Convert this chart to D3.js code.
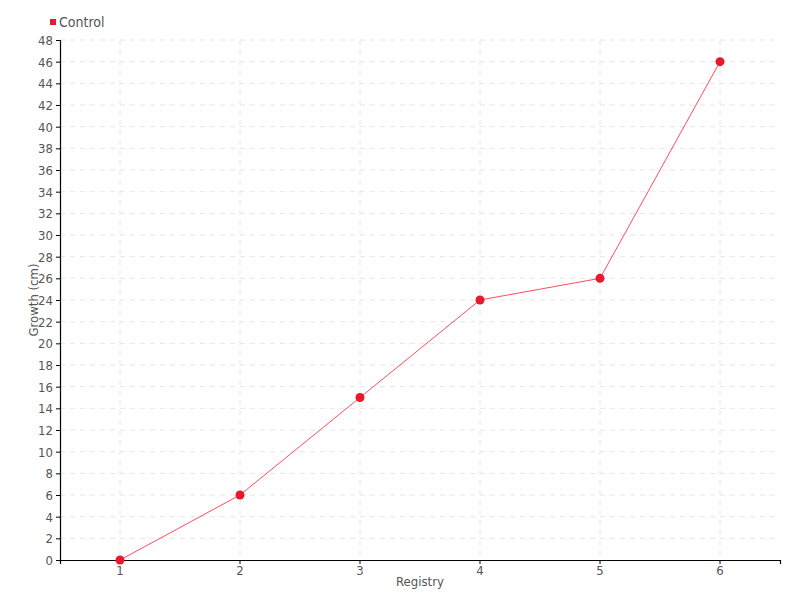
<!DOCTYPE html>
<html>
<body>
    <style>
        body, html { margin: 0; padding: 0; background: #fff; }
        svg text { font-family: "DejaVu Sans Condensed", sans-serif; fill: #555; }
    </style>

    <svg width="800" height="600"></svg>

    <script src="https://d3js.org/d3.v7.min.js"></script>
    <script>
        var categories = ["1", "2", "3", "4", "5", "6"];
        var growth = [0, 6, 15, 24, 26, 46];
        var yTicks = d3.range(0, 49, 2);
        var seriesName = "Control";

        var width = 800, height = 600;
        var margin = {top: 40, right: 20, bottom: 40, left: 60};
        var lineColor = "#ff4d5e";
        var dotColor = "#e8192c";
        var font = '"DejaVu Sans Condensed", sans-serif';

        var svg = d3.select("svg");

        var x = d3.scaleBand()
            .domain(categories)
            .range([margin.left, width - margin.right]);
        var y = d3.scaleLinear()
            .domain([0, 48])
            .range([height - margin.bottom, margin.top]);

        // grid
        svg.append("g").selectAll("line").data(yTicks.slice(1)).join("line")
            .attr("x1", margin.left).attr("x2", width - margin.right)
            .attr("y1", d => y(d)).attr("y2", d => y(d))
            .attr("stroke", "#e6e6e6").attr("stroke-dasharray", "5,5");
        svg.append("g").selectAll("line").data(categories).join("line")
            .attr("x1", d => x(d) + x.bandwidth() / 2).attr("x2", d => x(d) + x.bandwidth() / 2)
            .attr("y1", margin.top).attr("y2", height - margin.bottom)
            .attr("stroke", "#e6e6e6").attr("stroke-dasharray", "5,5");

        // axes
        var yAxis = svg.append("g")
            .attr("transform", "translate(" + margin.left + ",0)")
            .call(d3.axisLeft(y).tickValues(yTicks).tickSize(4).tickPadding(3));
        var xAxis = svg.append("g")
            .attr("transform", "translate(0," + (height - margin.bottom) + ")")
            .call(d3.axisBottom(x).tickSize(4).tickPadding(2));
        [xAxis, yAxis].forEach(function (a) {
            a.select(".domain").attr("stroke", "#000").attr("stroke-width", 1.2);
            a.selectAll(".tick line").attr("stroke", "#000");
            a.selectAll("text").attr("font-size", 13).style("fill", "#555")
                .style("font-family", font);
        });
        yAxis.selectAll("text").attr("dy", "0.35em");

        // line
        var line = d3.line()
            .x((d, i) => x(categories[i]) + x.bandwidth() / 2)
            .y(d => y(d));
        svg.append("path").datum(growth)
            .attr("d", line)
            .attr("fill", "none")
            .attr("stroke", lineColor)
            .attr("stroke-width", 1);
        svg.append("g").selectAll("circle").data(growth).join("circle")
            .attr("cx", (d, i) => x(categories[i]) + x.bandwidth() / 2)
            .attr("cy", d => y(d))
            .attr("r", 4.5)
            .attr("fill", dotColor);

        // titles
        svg.append("text")
            .attr("x", (margin.left + width - margin.right) / 2)
            .attr("y", 586)
            .attr("text-anchor", "middle")
            .attr("font-size", 13)
            .text("Registry");
        svg.append("text")
            .attr("transform", "translate(38," + (margin.top + (height - margin.bottom - margin.top) / 2) + ") rotate(-90)")
            .attr("text-anchor", "middle")
            .attr("font-size", 13)
            .text("Growth (cm)");

        // legend
        svg.append("rect")
            .attr("x", 50).attr("y", 19).attr("width", 6).attr("height", 6)
            .attr("fill", dotColor);
        svg.append("text")
            .attr("x", 59).attr("y", 27)
            .attr("font-size", 14)
            .text(seriesName);
    </script>
</body>
</html>
